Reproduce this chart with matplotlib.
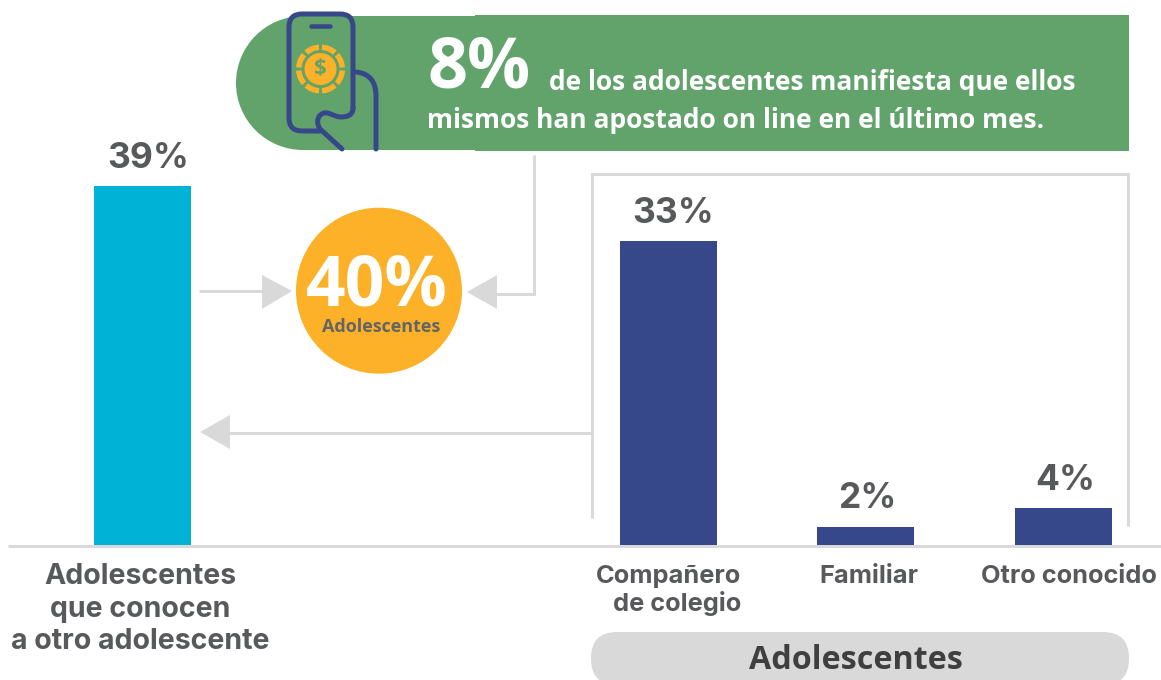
import matplotlib
matplotlib.use('Agg')
import matplotlib.pyplot as plt
from matplotlib.patches import Circle, Rectangle, FancyBboxPatch, Polygon, Wedge, PathPatch
from matplotlib.path import Path

left_cat = ['Adolescentes', 'que conocen', 'a otro adolescente']
left_val = [39]
right_cat = ['Compañero', 'de colegio', 'Familiar', 'Otro conocido']
right_val = [33, 2, 4]
center_val = '40%'
center_label = 'Adolescentes'
online_val = '8%'
online_line1 = 'de los adolescentes manifiesta que ellos'
online_line2 = 'mismos han apostado on line en el último mes.'
group_label = 'Adolescentes'

W, H = 1161, 680
BLUE = '#36478A'
CYAN = '#00B2D6'
GREEN = '#62A36C'
ORANGE = '#FDB128'
LGRAY = '#D9D9D9'
TXT = '#58595B'
LAB = 'Inter'
OS = 'Open Sans'
PX = 72 / 100

fig = plt.figure(figsize=(W / 100, H / 100), dpi=100, facecolor='white')
ax = fig.add_axes([0, 0, 1, 1])
ax.set_xlim(0, W)
ax.set_ylim(H, 0)
ax.axis('off')

# bars: same canvas in x, percent in y (0 at pixel 545, 9.2 px per point)
bx = fig.add_axes([0, 0, 1, 1], facecolor='none')
bx.set_xlim(0, W)
bx.set_ylim((545 - H) / 9.2, 545 / 9.2)
bx.axis('off')


def gline(xs, ys, lw=3):
    ax.plot(xs, ys, color=LGRAY, lw=lw * PX, solid_capstyle='butt', solid_joinstyle='miter')


# green banner
ax.add_patch(Circle((303, 83), 67, fc=GREEN, ec='none'))
ax.add_patch(Rectangle((303, 16), 175, 134, fc=GREEN, ec='none'))
ax.add_patch(Rectangle((475, 15), 654, 136, fc=GREEN, ec='none'))

# phone and hand
verts = [(353, 108), (353, 116), (346, 117), (340, 117), (333, 116), (329, 112), (324, 113),
         (317, 115), (316, 123), (320, 129), (342, 149)]
codes = [Path.MOVETO] + [Path.CURVE4] * 9 + [Path.LINETO]
ax.add_patch(PathPatch(Path(verts, codes), fc='none', ec=BLUE, lw=5 * PX, capstyle='round'))
verts = [(320, 131), (302, 131), (289, 131), (289, 118), (289, 27), (289, 14), (302, 14),
         (340, 14), (353, 14), (353, 27), (353, 108)]
codes = [Path.MOVETO, Path.LINETO, Path.CURVE3, Path.CURVE3, Path.LINETO, Path.CURVE3, Path.CURVE3,
         Path.LINETO, Path.CURVE3, Path.CURVE3, Path.LINETO]
ax.add_patch(PathPatch(Path(verts, codes), fc='none', ec=BLUE, lw=5 * PX, capstyle='round'))
verts = [(356, 72), (376, 74), (376, 96), (376, 149)]
codes = [Path.MOVETO, Path.CURVE3, Path.CURVE3, Path.LINETO]
ax.add_patch(PathPatch(Path(verts, codes), fc='none', ec=BLUE, lw=5 * PX, capstyle='round'))
ax.plot([311, 330], [26, 26], color=BLUE, lw=4.5 * PX, solid_capstyle='round')

# chip with dollar sign
for a in range(0, 360, 45):
    ax.add_patch(Wedge((320.5, 69), 24.5, a + 4, a + 41, width=5.5, fc=ORANGE, ec='none'))
ax.add_patch(Circle((320.5, 69), 16, fc=ORANGE, ec='none'))
ax.text(320.5, 69, '$', color=GREEN, fontsize=16, family=OS, weight='bold', ha='center', va='center')

# banner text
ax.text(427, 88, online_val, color='white', fontsize=50.5, family=OS, weight='bold', ha='left', va='baseline')
ax.text(549, 90, online_line1, color='white', fontsize=19, family=OS, weight='bold', ha='left', va='baseline')
ax.text(427, 128, online_line2, color='white', fontsize=19, family=OS, weight='bold', ha='left', va='baseline')

# connectors
gline([592, 592, 1128, 1128], [518, 173.5, 173.5, 526])
gline([199, 264], [290.5, 290.5])
ax.add_patch(Polygon([(262, 275), (292, 291), (262, 309)], fc=LGRAY, ec='none'))
gline([534, 534, 495], [155, 293.5, 293.5])
ax.add_patch(Polygon([(497, 275), (467, 292), (497, 309)], fc=LGRAY, ec='none'))
gline([592, 228], [432.5, 432.5])
ax.add_patch(Polygon([(230, 415), (200, 432), (230, 449)], fc=LGRAY, ec='none'))

# centre circle
ax.add_patch(Circle((379, 290.7), 83, fc=ORANGE, ec='none'))
ax.text(377, 306, center_val, color='white', fontsize=50, family=OS, weight='bold', ha='center', va='baseline')
ax.text(381, 332, center_label, color='#636466', fontsize=13, family=OS, weight='bold', ha='center', va='baseline')

# baseline
gline([8, 1161], [546, 546])

# bars
left_x = [142.5]
right_x = [668, 865, 1063]
label_dx = [6, 5, 2, 2.5]
bx.bar(left_x, left_val, width=97, color=CYAN, zorder=3)
bx.bar(right_x, right_val, width=97, color=BLUE, zorder=3)
for x, v, dx in zip(left_x + right_x, left_val + right_val, label_dx):
    bx.annotate(f'{v}%', (x, v), xytext=(dx * PX, 28 * PX), textcoords='offset points', color=TXT,
                fontsize=25.5, family=LAB, weight='bold', ha='center', va='center')

# category labels
for txt, yy in zip(left_cat, [584, 617, 649]):
    ax.text(140, yy, txt, color=TXT, fontsize=20.5, family=LAB, weight='bold', ha='center', va='baseline')
ax.text(668.5, 583, right_cat[0], color=TXT, fontsize=18.3, family=LAB, weight='bold', ha='center', va='baseline')
ax.text(677.5, 611, right_cat[1], color=TXT, fontsize=18.3, family=LAB, weight='bold', ha='center', va='baseline')
ax.text(869, 583, right_cat[2], color=TXT, fontsize=18.3, family=LAB, weight='bold', ha='center', va='baseline')
ax.text(1068.5, 583, right_cat[3], color=TXT, fontsize=18.3, family=LAB, weight='bold', ha='center', va='baseline')

# group pill
ax.add_patch(FancyBboxPatch((617, 658), 486, 1, boxstyle='round,pad=26,rounding_size=26', fc=LGRAY, ec='none',
                            mutation_aspect=1))
ax.text(856, 669, group_label, color='#3F3F40', fontsize=23.2, family=OS, weight='bold', ha='center', va='baseline')

fig.savefig('out.png', dpi=100)
